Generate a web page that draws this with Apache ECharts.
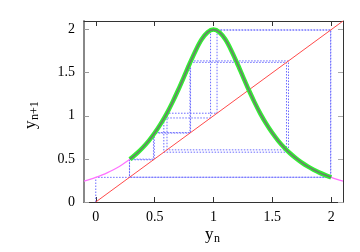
<!DOCTYPE html>
<html><head><meta charset="utf-8">
<script src="https://cdn.jsdelivr.net/npm/echarts@6/dist/echarts.min.js"></script>
<style>html,body{margin:0;padding:0;background:#fff}#c{width:360px;height:252px}</style>
</head><body><div id="c"></div>
<script>
const xTicks = [0, 0.5, 1, 1.5, 2];
const yTicks = [0, 0.5, 1, 1.5, 2];
const xRange = [-0.1, 2.1];
const yRange = [0, 2.1];
// full map curve (magenta)
const curveX = [-0.1,-0.05,0,0.05,0.1,0.15,0.2,0.25,0.3,0.35,0.4,0.45,0.5,0.55,0.6,0.65,0.7,0.75,0.8,0.85,0.9,0.95,1,
  1.05,1.1,1.15,1.2,1.25,1.3,1.35,1.4,1.45,1.5,1.55,1.6,1.65,1.7,1.75,1.8,1.85,1.9,1.95,2,2.05,2.1];
const curveY = [0.242,0.263,0.286,0.312,0.341,0.375,0.413,0.457,0.508,0.566,0.633,0.710,0.800,0.903,1.020,1.153,1.299,1.455,1.613,1.762,1.887,1.970,2.000,
  1.970,1.887,1.762,1.613,1.455,1.299,1.153,1.020,0.903,0.800,0.710,0.633,0.566,0.508,0.457,0.413,0.375,0.341,0.312,0.286,0.263,0.242];
// attractor part (green)
const attractorX = [0.29,0.3,0.35,0.4,0.45,0.5,0.55,0.6,0.65,0.7,0.75,0.8,0.85,0.9,0.95,1,
  1.05,1.1,1.15,1.2,1.25,1.3,1.35,1.4,1.45,1.5,1.55,1.6,1.65,1.7,1.75,1.8,1.85,1.9,1.95,2];
const attractorY = [0.497,0.508,0.566,0.633,0.710,0.800,0.903,1.020,1.153,1.299,1.455,1.613,1.762,1.887,1.970,2.000,
  1.970,1.887,1.762,1.613,1.455,1.299,1.153,1.020,0.903,0.800,0.710,0.633,0.566,0.508,0.457,0.413,0.375,0.341,0.312,0.286];
// diagonal y = x
const diagX = [0, 2.1];
const diagY = [0, 2.1];
// cobweb orbit values
const orbit = [0, 0.286, 0.49, 0.80, 1.62, 0.605, 1.03, 1.995, 0.287, 0.497, 0.805, 1.637, 0.578, 0.975, 1.996, 0.287];

const pairs = (xs, ys) => xs.map((x, i) => [x, ys[i]]);
const cobweb = [[orbit[0], 0]];
for (let i = 0; i < orbit.length - 1; i++) {
  cobweb.push([orbit[i], orbit[i + 1]]);
  cobweb.push([orbit[i + 1], orbit[i + 1]]);
}
const serif = 'Liberation Serif';
const chart = echarts.init(document.getElementById('c'), null, {renderer: 'canvas'});
const tickStyle = (c) => ({show: true, inside: true, length: 5, lineStyle: {color: c, width: 1}});
chart.setOption({
  animation: false,
  backgroundColor: '#fff',
  textStyle: {fontFamily: serif},
  grid: {left: 84, right: 17, top: 21, bottom: 50, containLabel: false},
  xAxis: [
    {type: 'value', min: xRange[0], max: xRange[1], position: 'bottom',
     axisLine: {show: true, onZero: false, lineStyle: {color: '#333', width: 1}},
     axisTick: Object.assign(tickStyle('#333'), {customValues: xTicks}),
     axisLabel: {customValues: xTicks, color: '#000', fontFamily: serif, fontSize: 14, margin: 8},
     splitLine: {show: false}},
    {type: 'value', min: xRange[0], max: xRange[1], position: 'top',
     axisLine: {show: true, onZero: false, lineStyle: {color: '#333', width: 1}},
     axisTick: Object.assign(tickStyle('#333'), {customValues: xTicks}),
     axisLabel: {show: false}, splitLine: {show: false}}
  ],
  yAxis: [
    {type: 'value', min: yRange[0], max: yRange[1], position: 'left',
     axisLine: {show: true, onZero: false, lineStyle: {color: '#888', width: 2}},
     axisTick: Object.assign(tickStyle('#999'), {customValues: yTicks}),
     axisLabel: {customValues: yTicks, color: '#000', fontFamily: serif, fontSize: 14, margin: 9},
     splitLine: {show: false}},
    {type: 'value', min: yRange[0], max: yRange[1], position: 'right',
     axisLine: {show: true, onZero: false, lineStyle: {color: '#333', width: 1}},
     axisTick: Object.assign(tickStyle('#aaa'), {customValues: yTicks}),
     axisLabel: {show: false}, splitLine: {show: false}}
  ],
  series: [
    {type: 'line', data: cobweb, showSymbol: false, symbol: 'none',
     lineStyle: {color: '#6b6bff', width: 1, type: [1.5, 1.5]}, z: 2},
    {type: 'line', data: pairs(diagX, diagY), showSymbol: false, symbol: 'none',
     lineStyle: {color: '#ff4a4a', width: 1}, z: 3},
    {type: 'line', data: pairs(curveX, curveY), showSymbol: false, symbol: 'none', smooth: 0.3,
     lineStyle: {color: '#ff70ff', width: 1.2}, z: 4},
    {type: 'line', data: pairs(attractorX, attractorY), showSymbol: false, symbol: 'none', smooth: 0.3,
     lineStyle: {color: '#33ee33', width: 4.5}, z: 5},
    {type: 'line', data: pairs(attractorX, attractorY), showSymbol: false, symbol: 'none', smooth: 0.3,
     lineStyle: {color: '#6a7f6a', width: 1.6}, z: 6}
  ],
  graphic: [
    {type: 'group', left: 205, top: 226, children: [
      {type: 'text', x: 0, y: 0, style: {text: 'y', font: '17px "Liberation Serif"', fill: '#000'}},
      {type: 'text', x: 9, y: 7, style: {text: 'n', font: '12px "Liberation Serif"', fill: '#000'}}
    ]},
    {type: 'group', x: 22, y: 129, rotation: Math.PI / 2, children: [
      {type: 'text', x: 0, y: 0, style: {text: 'y', font: '17px "Liberation Serif"', fill: '#000'}},
      {type: 'text', x: 9, y: 7, style: {text: 'n+1', font: '12px "Liberation Serif"', fill: '#000'}}
    ]}
  ]
});
</script></body></html>
